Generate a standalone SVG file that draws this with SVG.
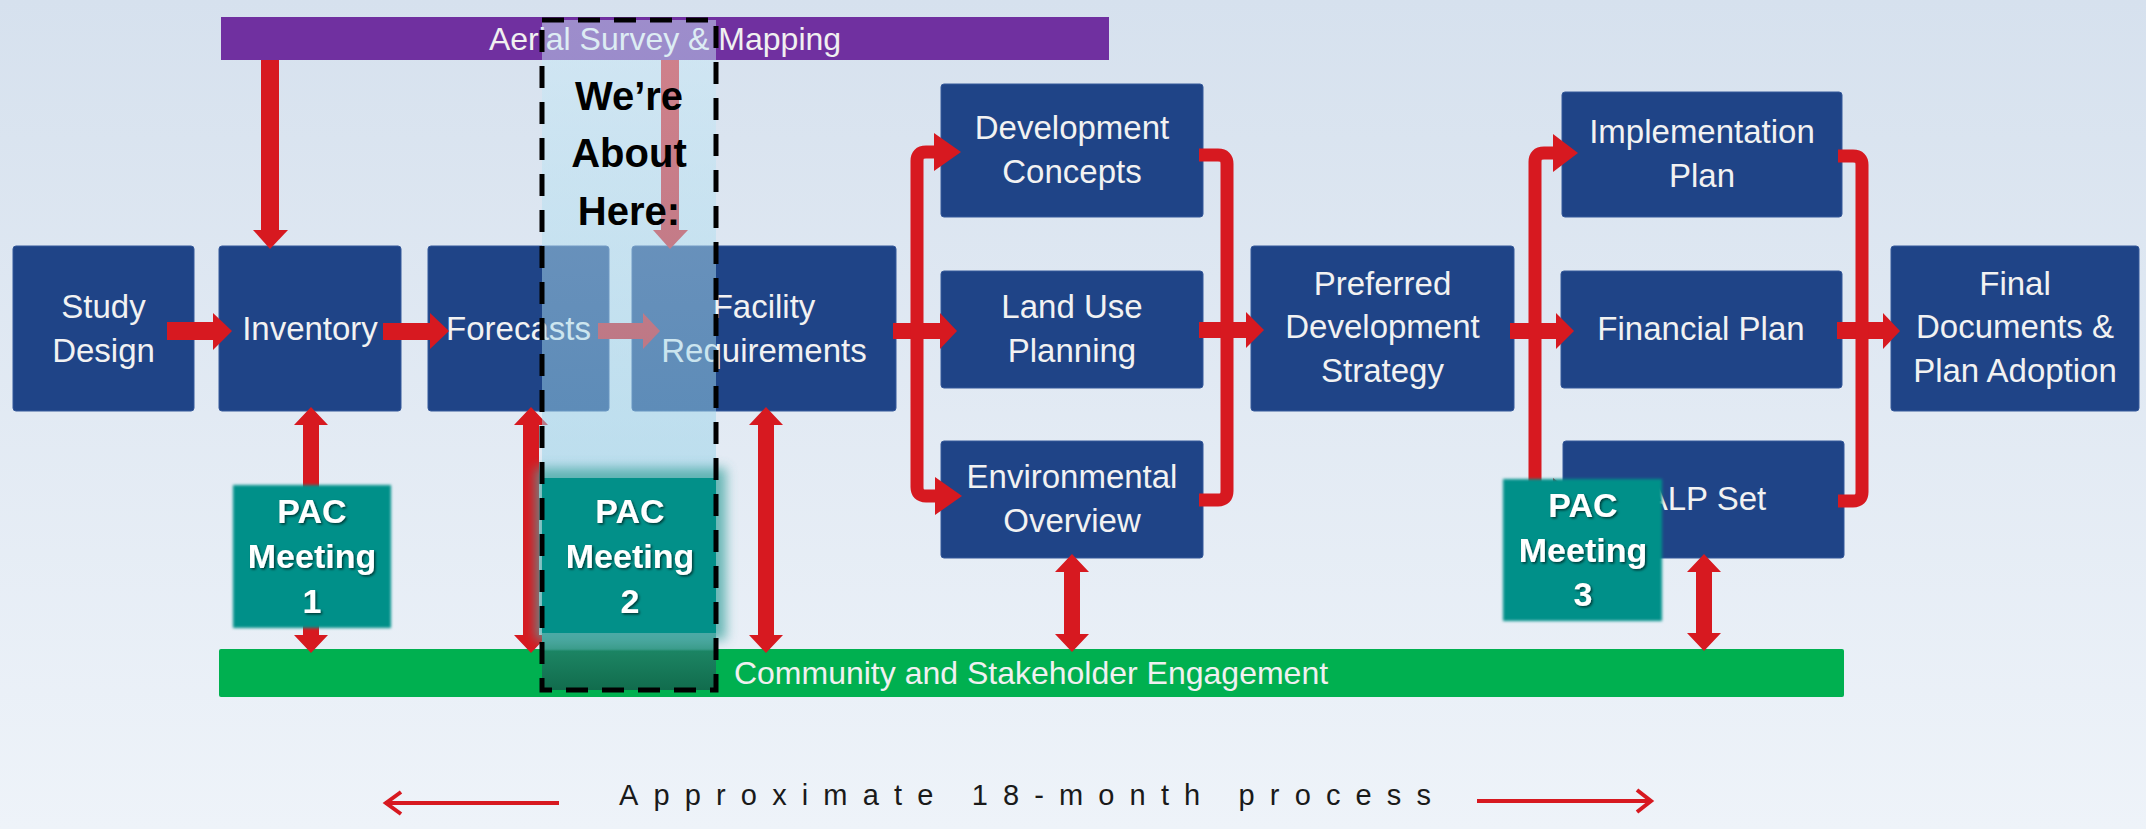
<svg xmlns="http://www.w3.org/2000/svg" width="2146" height="829" viewBox="0 0 2146 829">
<defs>
<linearGradient id="bg" x1="0" y1="0" x2="0" y2="1">
<stop offset="0" stop-color="#d6e1ee"/>
<stop offset="1" stop-color="#eef3f9"/>
</linearGradient>
<linearGradient id="ov" x1="0" y1="20" x2="0" y2="633" gradientUnits="userSpaceOnUse">
<stop offset="0" stop-color="#cbeaf7" stop-opacity="0.5"/>
<stop offset="0.7" stop-color="#98d2e8" stop-opacity="0.5"/>
<stop offset="1" stop-color="#8fcde4" stop-opacity="0.6"/>
</linearGradient>
<linearGradient id="ovb" x1="0" y1="633" x2="0" y2="690" gradientUnits="userSpaceOnUse">
<stop offset="0" stop-color="#54aca7"/>
<stop offset="0.28" stop-color="#3a9c8a"/>
<stop offset="0.32" stop-color="#1c8463"/>
<stop offset="1" stop-color="#116c4d"/>
</linearGradient>
<filter id="soft" x="-10%" y="-10%" width="120%" height="120%">
<feGaussianBlur stdDeviation="1.6"/>
</filter>
<filter id="glow" x="-20%" y="-20%" width="140%" height="140%">
<feGaussianBlur stdDeviation="6"/>
</filter>
<filter id="tsh" x="-10%" y="-10%" width="130%" height="130%">
<feDropShadow dx="1.5" dy="1.5" stdDeviation="1" flood-color="#000" flood-opacity="0.6"/>
</filter>
<style>
.box{fill:#1f4487;stroke:#34589a;stroke-width:1}
.lbl{font-family:"Liberation Sans",Arial,sans-serif;font-size:33px;fill:#f2f2f2;text-anchor:middle}
.pac{fill:#029089}
.pt{font-family:"Liberation Sans",Arial,sans-serif;font-weight:bold;font-size:34px;fill:#ffffff;text-anchor:middle}
.red{fill:#d71920}
.br{fill:none;stroke:#d71920;stroke-width:13}
.bar{font-family:"Liberation Sans",Arial,sans-serif;font-size:32px;fill:#f0f0f0;text-anchor:middle}
</style>
</defs>
<rect x="0" y="0" width="2146" height="829" fill="url(#bg)"/>

<g id="aerial-survey">
<rect x="221" y="17" width="888" height="43" fill="#7030a0"/>
<text class="bar" x="665" y="50" font-size="31">Aerial Survey &amp; Mapping</text>
</g>

<g id="community-engagement">
<rect x="219" y="649" width="1625" height="48" rx="2" fill="#00b050"/>
<text class="bar" x="1031" y="684">Community and Stakeholder Engagement</text>
</g>

<g id="study-design">
<rect class="box" x="13" y="246" width="181" height="165" rx="3"/>
<text class="lbl" x="103.5" y="318">Study</text>
<text class="lbl" x="103.5" y="362">Design</text>
</g>
<g id="inventory">
<rect class="box" x="219" y="246" width="182" height="165" rx="3"/>
<text class="lbl" x="310" y="340">Inventory</text>
</g>
<g id="forecasts">
<rect class="box" x="428" y="246" width="181" height="165" rx="3"/>
<text class="lbl" x="518.5" y="340">Forecasts</text>
</g>
<g id="facility-requirements">
<rect class="box" x="632" y="246" width="264" height="165" rx="3"/>
<text class="lbl" x="764" y="318">Facility</text>
<text class="lbl" x="764" y="362">Requirements</text>
</g>
<g id="development-concepts">
<rect class="box" x="941" y="84" width="262" height="133" rx="3"/>
<text class="lbl" x="1072" y="139">Development</text>
<text class="lbl" x="1072" y="183">Concepts</text>
</g>
<g id="land-use-planning">
<rect class="box" x="941" y="271" width="262" height="117" rx="3"/>
<text class="lbl" x="1072" y="318">Land Use</text>
<text class="lbl" x="1072" y="362">Planning</text>
</g>
<g id="environmental-overview">
<rect class="box" x="941" y="441" width="262" height="117" rx="3"/>
<text class="lbl" x="1072" y="488">Environmental</text>
<text class="lbl" x="1072" y="532">Overview</text>
</g>
<g id="preferred-development-strategy">
<rect class="box" x="1251" y="246" width="263" height="165" rx="3"/>
<text class="lbl" x="1382.5" y="295">Preferred</text>
<text class="lbl" x="1382.5" y="338">Development</text>
<text class="lbl" x="1382.5" y="382">Strategy</text>
</g>
<g id="implementation-plan">
<rect class="box" x="1562" y="92" width="280" height="125" rx="3"/>
<text class="lbl" x="1702" y="143">Implementation</text>
<text class="lbl" x="1702" y="187">Plan</text>
</g>
<g id="financial-plan">
<rect class="box" x="1561" y="271" width="281" height="117" rx="3"/>
<text class="lbl" x="1701" y="340">Financial Plan</text>
</g>
<g id="alp-set">
<rect class="box" x="1563" y="441" width="281" height="117" rx="3"/>
<text class="lbl" x="1706" y="510">ALP Set</text>
</g>
<g id="final-documents">
<rect class="box" x="1891" y="246" width="248" height="165" rx="3"/>
<text class="lbl" x="2015" y="295">Final</text>
<text class="lbl" x="2015" y="338">Documents &amp;</text>
<text class="lbl" x="2015" y="382">Plan Adoption</text>
</g>

<g id="connectors">
<rect class="red" x="261" y="60" width="18" height="171"/>
<polygon class="red" points="253,230 288,230 270,249"/>
<rect class="red" x="661" y="60" width="18" height="171"/>
<polygon class="red" points="653,230 688,230 670,249"/>
<rect class="red" x="167" y="322" width="47" height="18"/>
<polygon class="red" points="213,313 232,331 213,350"/>
<rect class="red" x="383" y="323" width="48" height="17"/>
<polygon class="red" points="430,313 449,331 430,349"/>
<rect class="red" x="598" y="323" width="46" height="16"/>
<polygon class="red" points="643,313 660,331 643,349"/>
<rect class="red" x="893" y="323" width="48" height="16"/>
<polygon class="red" points="940,313 957,331 940,349"/>
<rect class="red" x="1199" y="322" width="48" height="16"/>
<polygon class="red" points="1246,312 1264,330 1246,348"/>
<rect class="red" x="1510" y="323" width="47" height="16"/>
<polygon class="red" points="1556,313 1574,331 1556,349"/>
<rect class="red" x="1837" y="322" width="47" height="17"/>
<polygon class="red" points="1883,313 1900,331 1883,349"/>
<path class="br" d="M936 152H926Q917 152 917 161V487Q917 496 926 496H936"/>
<polygon class="red" points="934,133 961,152 934,171"/>
<polygon class="red" points="935,477 962,496 935,515"/>
<path class="br" d="M1199 155H1218Q1227 155 1227 164V491Q1227 500 1218 500H1199"/>
<path class="br" d="M1555 153H1544Q1535 153 1535 162V488Q1535 497 1544 497H1555"/>
<polygon class="red" points="1553,134 1578,153 1553,172"/>
<polygon class="red" points="1553,478 1578,497 1553,516"/>
<path class="br" d="M1838 156H1853Q1862 156 1862 165V492Q1862 501 1853 501H1838"/>
<polygon class="red" points="311,407 328,425 319,425 319,635 328,635 311,653 294,635 303,635 303,425 294,425"/>
<polygon class="red" points="531,407 548,425 539,425 539,635 548,635 531,653 514,635 523,635 523,425 514,425"/>
<polygon class="red" points="766,407 783,425 774,425 774,635 783,635 766,653 749,635 758,635 758,425 749,425"/>
<polygon class="red" points="1072,554 1089,572 1080,572 1080,634 1089,634 1072,652 1055,634 1064,634 1064,572 1055,572"/>
<polygon class="red" points="1704,554 1721,572 1712,572 1712,633 1721,633 1704,651 1687,633 1696,633 1696,572 1687,572"/>
</g>

<g id="highlight-overlay">
<rect x="542" y="20" width="174" height="615" fill="url(#ov)"/>
<rect x="542" y="633" width="174" height="57" fill="url(#ovb)"/>
</g>

<g id="pac-meeting-1">
<rect class="pac" x="233" y="485" width="158" height="143" filter="url(#soft)"/>
<text class="pt" x="312" y="523" filter="url(#tsh)">PAC</text>
<text class="pt" x="312" y="568" filter="url(#tsh)">Meeting</text>
<text class="pt" x="312" y="613" filter="url(#tsh)">1</text>
</g>
<g id="pac-meeting-2">
<rect x="536" y="468" width="190" height="172" fill="#4aa9a5" opacity="0.8" filter="url(#glow)"/>
<rect class="pac" x="542" y="478" width="174" height="155"/>
<text class="pt" x="630" y="523" filter="url(#tsh)">PAC</text>
<text class="pt" x="630" y="568" filter="url(#tsh)">Meeting</text>
<text class="pt" x="630" y="613" filter="url(#tsh)">2</text>
</g>
<g id="pac-meeting-3">
<rect class="pac" x="1503" y="479" width="159" height="142" filter="url(#soft)"/>
<text class="pt" x="1583" y="517" filter="url(#tsh)">PAC</text>
<text class="pt" x="1583" y="562" filter="url(#tsh)">Meeting</text>
<text class="pt" x="1583" y="606" filter="url(#tsh)">3</text>
</g>

<g id="about-here">
<rect x="542" y="20" width="174" height="670" fill="none" stroke="#000" stroke-width="5" stroke-dasharray="22 14"/>
<text x="629" y="110" font-family="'Liberation Sans',Arial,sans-serif" font-weight="bold" font-size="40" fill="#000" text-anchor="middle">We’re</text>
<text x="629" y="167" font-family="'Liberation Sans',Arial,sans-serif" font-weight="bold" font-size="40" fill="#000" text-anchor="middle">About</text>
<text x="629" y="225" font-family="'Liberation Sans',Arial,sans-serif" font-weight="bold" font-size="40" fill="#000" text-anchor="middle">Here:</text>
</g>

<g id="timeline">
<line x1="385" y1="803" x2="559" y2="803" stroke="#d71920" stroke-width="4"/>
<polyline points="401,792 386,803 401,814" fill="none" stroke="#d71920" stroke-width="4"/>
<line x1="1477" y1="801" x2="1650" y2="801" stroke="#d71920" stroke-width="4"/>
<polyline points="1637,790 1651,801 1637,812" fill="none" stroke="#d71920" stroke-width="4"/>
<text x="619" y="805" font-family="'Liberation Sans Narrow','Liberation Sans',Arial,sans-serif" font-size="29" fill="#1a1a1a" textLength="812" lengthAdjust="spacing">Approximate 18-month process</text>
</g>
</svg>
